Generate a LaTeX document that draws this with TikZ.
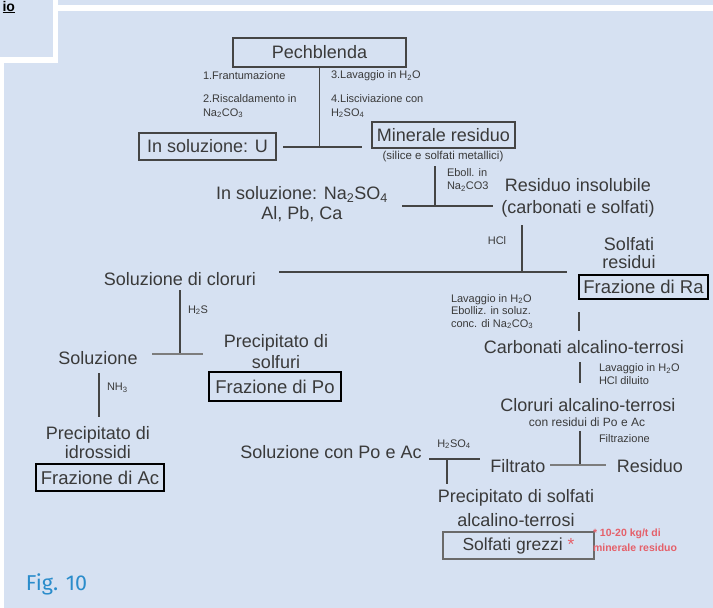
\documentclass[tikz,border=0pt]{standalone}
\usepackage{fontspec}
\setmainfont{Liberation Sans}
\newfontfamily\figfont{Fira Sans}
\definecolor{bg}{HTML}{D6E1F2}
\definecolor{txt}{HTML}{3A3A3A}
\definecolor{ln}{HTML}{454545}
\definecolor{note}{HTML}{E5606A}
\definecolor{figblue}{HTML}{2A8CCB}
\definecolor{grezzibox}{HTML}{6A6A6A}
\newcommand{\sbs}[1]{\textsubscript{#1}}
\begin{document}
\begin{tikzpicture}[x=1pt,y=1pt,
  every node/.style={text=txt, inner sep=0pt, outer sep=0pt},
  lbl/.style={font=\fontsize{18}{20}\selectfont, align=center},
  sml/.style={font=\fontsize{11}{13}\selectfont, align=left, anchor=west},
  thinbox/.style={draw=ln, line width=1.3pt, font=\fontsize{18}{20}\selectfont},
  fracbox/.style={draw=black, line width=2.2pt, font=\fontsize{18.5}{20}\selectfont},
  conn/.style={draw=ln, line width=1.2pt}]
\useasboundingbox (0,0) rectangle (713,-608);
% background panels
\fill[white] (0,0) rectangle (713,-608);
\fill[bg] (0,0) rectangle (53,-57);
\fill[bg] (58,0) rectangle (713,-5);
\fill[bg] (4,-63) -- (58,-63) -- (58,-11) -- (713,-11) -- (713,-608) -- (4,-608) -- cycle;
\node[anchor=north east, text=black, font=\bfseries\fontsize{14}{14}\selectfont] (io) at (15,-1) {\underline{io}};

% boxes
\node[thinbox, minimum width=173, minimum height=29] (pech) at (319.5,-52.5) {Pechblenda};
\node[thinbox, minimum width=137, minimum height=27] (solU) at (207.5,-146.5) {In soluzione: U};
\node[thinbox, minimum width=143, minimum height=26] (minres) at (443.5,-135) {Minerale residuo};
\node[fracbox, minimum width=129, minimum height=24] (fracRa) at (643.5,-287) {Frazione di Ra};
\node[fracbox, minimum width=132, minimum height=29] (fracPo) at (275,-386.5) {Frazione di Po};
\node[fracbox, minimum width=128, minimum height=27] (fracAc) at (100,-477.5) {Frazione di Ac};
\node[draw=grezzibox, line width=1.2pt, minimum width=151, minimum height=27, font=\fontsize{17.5}{20}\selectfont] (grezzi) at (518.5,-545.5) {Solfati grezzi \textcolor{note}{*}};

% main labels
\node[lbl, font=\fontsize{18}{20}\selectfont] (nasolf) at (302,-204) {In soluzione: Na\sbs{2}SO\sbs{4}\\Al, Pb, Ca};
\node[lbl, font=\fontsize{18}{22}\selectfont] (resins) at (578,-198) {Residuo insolubile\\(carbonati e solfati)};
\node[lbl] (solclor) at (180,-279) {Soluzione di cloruri};
\node[lbl, font=\fontsize{18}{18}\selectfont] (solfres) at (629,-253) {Solfati\\residui};
\node[lbl] (carb) at (584,-347) {Carbonati alcalino-terrosi};
\node[lbl] (clor) at (588,-405) {Cloruri alcalino-terrosi};
\node[lbl] (filtrato) at (518,-466) {Filtrato};
\node[lbl] (residuo) at (650,-466) {Residuo};
\node[lbl] (soluz) at (98,-358) {Soluzione};
\node[lbl, font=\fontsize{18}{21}\selectfont] (precsolf) at (276,-352) {Precipitato di\\solfuri};
\node[lbl, font=\fontsize{18}{19}\selectfont] (precidr) at (98,-442.5) {Precipitato di\\idrossidi};
\node[lbl] (solPoAc) at (331,-452) {Soluzione con Po e Ac};
\node[lbl, font=\fontsize{18}{24}\selectfont] (precsolfati) at (516,-508) {Precipitato di solfati\\alcalino-terrosi};

% small labels
\node[sml] (fr1) at (203,-76) {1.Frantumazione};
\node[sml, font=\fontsize{11}{14}\selectfont] (fr2) at (203,-106) {2.Riscaldamento in\\Na\sbs{2}CO\sbs{3}};
\node[sml] (lv1) at (331,-76) {3.Lavaggio in H\sbs{2}O};
\node[sml, font=\fontsize{11}{14}\selectfont] (lv2) at (331,-106) {4.Lisciviazione con\\H\sbs{2}SO\sbs{4}};
\node[font=\fontsize{11.5}{13}\selectfont] (silice) at (443,-157) {(silice e solfati metallici)};
\node[sml] (eboll) at (447,-180) {Eboll. in\\Na\sbs{2}CO3};
\node[font=\fontsize{11}{13}\selectfont] (hcl) at (497,-241) {HCl};
\node[sml, font=\fontsize{11}{12.5}\selectfont] (lav2) at (451,-311.5) {Lavaggio in H\sbs{2}O\\Ebolliz. in soluz.\\conc. di Na\sbs{2}CO\sbs{3}};
\node[sml] (lav3) at (599,-374.5) {Lavaggio in H\sbs{2}O\\HCl diluito};
\node[font=\fontsize{12}{13}\selectfont] (conres) at (587,-422) {con residui di Po e Ac};
\node[sml] (filtraz) at (599,-439) {Filtrazione};
\node[sml] (h2s) at (188,-310) {H\sbs{2}S};
\node[sml] (nh3) at (107,-388) {NH\sbs{3}};
\node[font=\fontsize{11}{13}\selectfont] (h2so4) at (454,-444) {H\sbs{2}SO\sbs{4}};
\node[anchor=west, align=left, text=note, font=\bfseries\fontsize{10.5}{15}\selectfont] (note) at (593,-540.5) {* 10-20 kg/t di\\minerale residuo};
\node[anchor=west, text=figblue, font=\figfont\fontsize{21.5}{24}\selectfont] (fig) at (26,-584) {Fig. 10};

% connector coordinates
\coordinate (j1) at (320,-147);
\coordinate (h1a) at (283,-147);
\coordinate (h1b) at (362,-147);
\coordinate (v2a) at (435,-166);
\coordinate (v2b) at (435,-206);
\coordinate (h2a) at (402,-206);
\coordinate (h2b) at (493,-206);
\coordinate (v3a) at (522,-225);
\coordinate (v3b) at (522,-272);
\coordinate (h3a) at (279,-272);
\coordinate (h3b) at (567,-272);
\coordinate (v4a) at (579,-312);
\coordinate (v4b) at (579,-331);
\coordinate (v5a) at (580,-362);
\coordinate (v5b) at (580,-383);
\coordinate (v6a) at (580,-431);
\coordinate (v6b) at (580,-465);
\coordinate (h6a) at (550,-465);
\coordinate (h6b) at (606,-465);
\coordinate (v7a) at (180,-290);
\coordinate (v7b) at (180,-354);
\coordinate (h7a) at (152,-354);
\coordinate (h7b) at (203,-354);
\coordinate (v8a) at (99,-373);
\coordinate (v8b) at (99,-417);
\coordinate (h9a) at (429,-459);
\coordinate (h9b) at (480,-459);
\coordinate (v9a) at (447,-459);
\coordinate (v9b) at (447,-484);

% connectors
\draw[conn] (pech.south) -- (pech.south |- j1);
\draw[conn] (h1a) -- (h1b);
\draw[conn] (v2a) -- (v2b);
\draw[conn] (h2a) -- (h2b);
\draw[conn] (v3a) -- (v3b);
\draw[conn] (h3a) -- (h3b);
\draw[conn] (v4a) -- (v4b);
\draw[conn] (v5a) -- (v5b);
\draw[conn] (v6a) -- (v6b);
\draw[conn, draw=ln!70] (h6a) -- (h6b);
\draw[conn] (v7a) -- (v7b);
\draw[conn, draw=ln!70] (h7a) -- (h7b);
\draw[conn] (v8a) -- (v8b);
\draw[conn] (h9a) -- (h9b);
\draw[conn] (v9a) -- (v9b);
\end{tikzpicture}
\end{document}
